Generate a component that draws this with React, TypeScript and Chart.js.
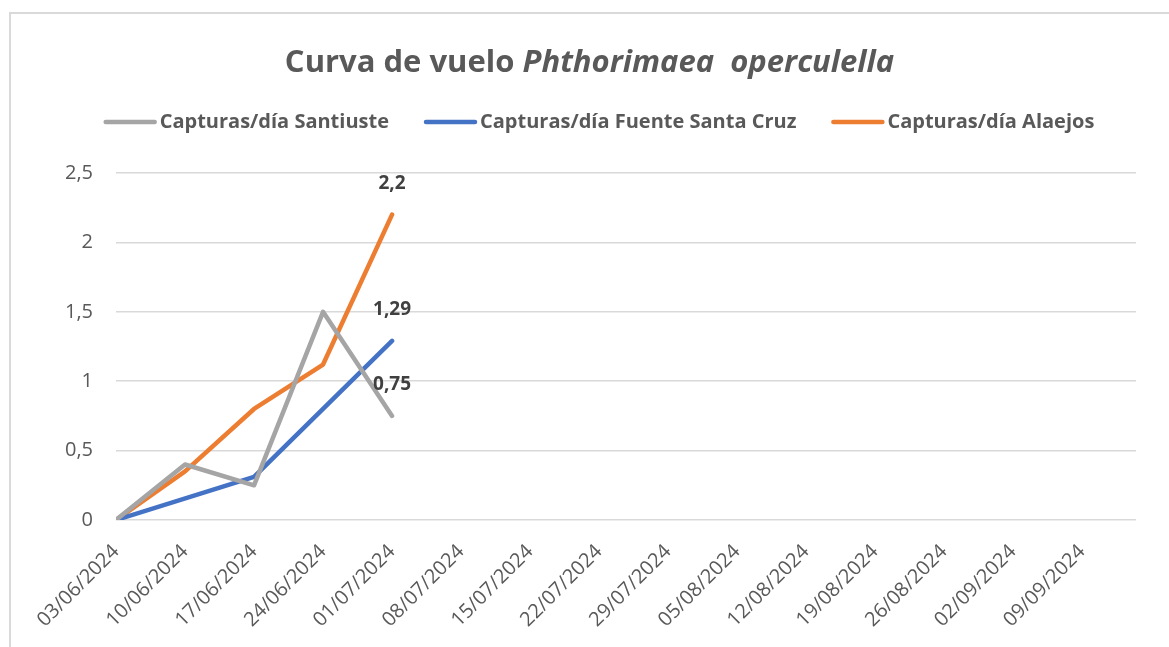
import React, { useEffect, useRef } from "react";
import { Chart, registerables } from "chart.js";

Chart.register(...registerables);

const dateLabels = [
  "03/06/2024", "10/06/2024", "17/06/2024", "24/06/2024", "01/07/2024",
  "08/07/2024", "15/07/2024", "22/07/2024", "29/07/2024", "05/08/2024",
  "12/08/2024", "19/08/2024", "26/08/2024", "02/09/2024", "09/09/2024",
];

const santiuste: (number | null)[] = [0, 0.4, 0.25, 1.5, 0.75];
const fuenteSantaCruz: (number | null)[] = [0, null, 0.31, null, 1.29];
const alaejos: (number | null)[] = [0, 0.35, 0.8, 1.12, 2.2];

const seriesNames = [
  "Capturas/día Santiuste",
  "Capturas/día Fuente Santa Cruz",
  "Capturas/día Alaejos",
];
const seriesColors = ["#A5A5A5", "#4472C4", "#ED7D31"];

const titlePlain = "Curva de vuelo ";
const titleItalic = "Phthorimaea  operculella";

const FONT = "'Open Sans', 'DejaVu Sans', sans-serif";

const toPoints = (arr: (number | null)[]) =>
  arr.map((v, i) => ({ x: i, y: v }));

const titlePlugin = {
  id: "mixedTitle",
  afterDraw(chart: any) {
    const ctx = chart.ctx;
    ctx.save();
    ctx.fillStyle = "#595959";
    ctx.textBaseline = "middle";
    ctx.textAlign = "left";
    const f1 = `bold 31px ${FONT}`;
    const f2 = `italic bold 31px ${FONT}`;
    ctx.font = f1;
    const w1 = ctx.measureText(titlePlain).width;
    ctx.font = f2;
    const w2 = ctx.measureText(titleItalic).width;
    const cx = 589.5;
    const x0 = cx - (w1 + w2) / 2;
    const y = 63;
    ctx.font = f1;
    ctx.fillText(titlePlain, x0, y);
    ctx.font = f2;
    ctx.fillText(titleItalic, x0 + w1, y);
    ctx.restore();
  },
};

const legendPlugin = {
  id: "customLegend",
  afterDraw(chart: any) {
    const ctx = chart.ctx;
    ctx.save();
    ctx.font = `bold 20px ${FONT}`;
    ctx.textBaseline = "middle";
    ctx.textAlign = "left";
    const lineW = 53;
    const gap = 3;
    const spacing = 35;
    const items = chart.data.datasets.map((ds: any) => ({
      text: ds.label,
      color: ds.borderColor,
      lw: ds.borderWidth,
      w: lineW + gap + ctx.measureText(ds.label).width,
    }));
    const total = items.reduce((s: number, it: any) => s + it.w, 0) + spacing * (items.length - 1);
    let x = 599 - total / 2;
    const y = 122;
    items.forEach((it: any) => {
      ctx.strokeStyle = it.color;
      ctx.lineWidth = it.lw;
      ctx.lineCap = "round";
      ctx.beginPath();
      ctx.moveTo(x + 2, y);
      ctx.lineTo(x + lineW - 2, y);
      ctx.stroke();
      ctx.fillStyle = "#595959";
      ctx.fillText(it.text, x + lineW + gap, y);
      x += it.w + spacing;
    });
    ctx.restore();
  },
};

const lastLabelPlugin = {
  id: "lastLabels",
  afterDatasetsDraw(chart: any) {
    const ctx = chart.ctx;
    ctx.save();
    ctx.font = `bold 19px ${FONT}`;
    ctx.fillStyle = "#404040";
    ctx.textAlign = "center";
    ctx.textBaseline = "middle";
    chart.data.datasets.forEach((ds: any, di: number) => {
      const meta = chart.getDatasetMeta(di);
      let last = -1;
      ds.data.forEach((p: any, i: number) => {
        if (p && p.y !== null && p.y !== undefined) last = i;
      });
      if (last < 0) return;
      const el = meta.data[last];
      const txt = String(ds.data[last].y).replace(".", ",");
      ctx.fillText(txt, el.x, el.y - 31);
    });
    ctx.restore();
  },
};

export default function App() {
  const ref = useRef<HTMLCanvasElement | null>(null);

  useEffect(() => {
    document.body.style.margin = "0";
    const canvas = ref.current!;
    const series = [santiuste, fuenteSantaCruz, alaejos];
    const chart = new Chart(canvas, {
      type: "line",
      data: {
        datasets: series.map((s, i) => ({
          label: seriesNames[i],
          data: toPoints(s),
          borderColor: seriesColors[i],
          backgroundColor: seriesColors[i],
          borderWidth: 4.5,
          pointRadius: 0,
          tension: 0,
          spanGaps: true,
          borderCapStyle: "round" as const,
          borderJoinStyle: "round" as const,
        })),
      },
      options: {
        animation: false,
        responsive: false,
        devicePixelRatio: 1,
        layout: { padding: { left: 62, right: 33, top: 173, bottom: 0 } },
        plugins: {
          title: { display: false },
          tooltip: { enabled: false },
          legend: { display: false },
        },
        scales: {
          x: {
            type: "linear",
            min: 0,
            max: 14.78,
            grid: { display: false, drawTicks: false },
            border: { display: false },
            afterFit: (scale: any) => {
              scale.height = 127;
            },
            afterBuildTicks: (scale: any) => {
              scale.ticks = dateLabels.map((_, i) => ({ value: i }));
            },
            ticks: {
              autoSkip: false,
              maxRotation: 45,
              minRotation: 45,
              padding: 20,
              color: "#595959",
              font: { family: FONT, size: 20 },
              callback: (v: any) => dateLabels[v] ?? "",
            },
          },
          y: {
            min: 0,
            max: 2.5,
            grid: { color: "#d9d9d9", lineWidth: 1.5, drawTicks: false },
            border: { display: false },
            afterFit: (scale: any) => {
              scale.width = 54;
            },
            ticks: {
              stepSize: 0.5,
              padding: 23,
              color: "#595959",
              font: { family: FONT, size: 20 },
              callback: (v: any) => String(v).replace(".", ","),
            },
          },
        },
      },
      plugins: [titlePlugin, legendPlugin, lastLabelPlugin],
    });
    return () => chart.destroy();
  }, []);

  return (
    <div style={{ position: "absolute", left: 0, top: 0, width: 1169, height: 647, background: "#fff", overflow: "hidden" }}>
      <div
        style={{
          position: "absolute",
          left: 9,
          top: 12,
          width: 1200,
          height: 700,
          borderTop: "2px solid #d9d9d9",
          borderLeft: "2px solid #d9d9d9",
        }}
      />
      <canvas ref={ref} width={1169} height={647} style={{ position: "absolute", left: 0, top: 0 }} />
    </div>
  );
}
